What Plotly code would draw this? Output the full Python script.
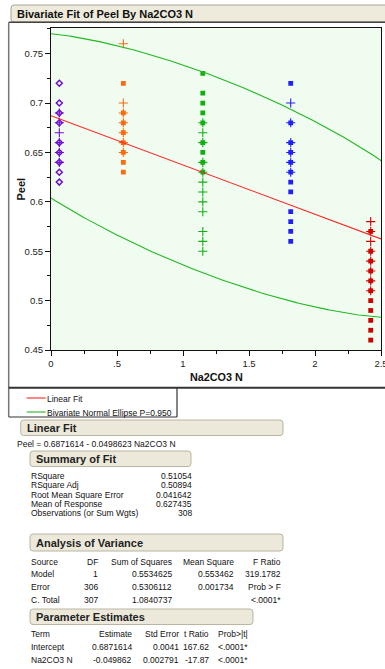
import numpy as np
import plotly.graph_objects as go

W, H = 385, 669

# ---------------- data ----------------
group_x = [0.063, 0.548, 1.15, 1.816, 2.422]
group_colors = ["#7010d0", "#ff6a10", "#10b010", "#2020ff", "#d00000"]

g1_marker_y = [0.72, 0.70, 0.69, 0.68, 0.66, 0.65, 0.64, 0.63, 0.62]
g1_plus_y = [0.69, 0.68, 0.67, 0.66, 0.65, 0.64]
g2_marker_y = [0.72, 0.69, 0.68, 0.67, 0.66, 0.65, 0.64, 0.63]
g2_plus_y = [0.76, 0.70, 0.69, 0.68, 0.67, 0.66, 0.65]
g3_marker_y = [0.73, 0.71, 0.70, 0.69, 0.68, 0.66, 0.65, 0.64, 0.63]
g3_plus_y = [0.68, 0.67, 0.66, 0.64, 0.63, 0.62, 0.61, 0.60, 0.59, 0.57, 0.56, 0.55]
g4_marker_y = [0.72, 0.68, 0.66, 0.65, 0.64, 0.63, 0.62, 0.61, 0.59, 0.58, 0.57, 0.56]
g4_plus_y = [0.70, 0.68, 0.66, 0.65, 0.64, 0.63]
g5_marker_y = [0.57, 0.55, 0.54, 0.53, 0.52, 0.51, 0.50, 0.49, 0.48, 0.47, 0.46]
g5_plus_y = [0.58, 0.57, 0.56, 0.55, 0.54, 0.53, 0.52, 0.51]

marker_sets = [g1_marker_y, g2_marker_y, g3_marker_y, g4_marker_y, g5_marker_y]
plus_sets = [g1_plus_y, g2_plus_y, g3_plus_y, g4_plus_y, g5_plus_y]
marker_symbols = ["diamond-open", "square", "square", "square", "square"]

# fit statistics (from report)
INTERCEPT = 0.6871614
SLOPE = -0.0498623
RSQUARE = 0.51054
MEAN_Y = 0.627435
N_OBS = 308
SS_TOTAL = 1.0840737
ELLIPSE_P = 0.950

x_tickvals = [0, 0.5, 1, 1.5, 2, 2.5]
x_ticktext = ["0", ".5", "1", "1.5", "2", "2.5"]

equation = "Peel = 0.6871614 - 0.0498623 Na2CO3 N"
summary_labels = ["RSquare", "RSquare Adj", "Root Mean Square Error",
                  "Mean of Response", "Observations (or Sum Wgts)"]
summary_values = ["0.51054", "0.50894", "0.041642", "0.627435", "308"]

anova_header = ["Source", "DF", "Sum of Squares", "Mean Square", "F Ratio"]
anova_rows = [
    ["Model", "1", "0.5534625", "0.553462", "319.1782"],
    ["Error", "306", "0.5306112", "0.001734", "Prob > F"],
    ["C. Total", "307", "1.0840737", "", "<.0001*"],
]
pe_header = ["Term", "Estimate", "Std Error", "t Ratio", "Prob>|t|"]
pe_rows = [
    ["Intercept", "0.6871614", "0.0041", "167.62", "<.0001*"],
    ["Na2CO3 N", "-0.049862", "0.002791", "-17.87", "<.0001*"],
]

# ---------------- helpers ----------------
FONT = "Liberation Sans, Arial, sans-serif"
PAD = 2  # plotly annotation inner padding


def PX(x):
    return x / W


def PY(y):
    return 1 - y / H


def rrect(x0, y0, x1, y1, r):
    p = [
        f"M {PX(x0 + r)},{PY(y0)}",
        f"L {PX(x1 - r)},{PY(y0)}",
        f"Q {PX(x1)},{PY(y0)} {PX(x1)},{PY(y0 + r)}",
        f"L {PX(x1)},{PY(y1 - r)}",
        f"Q {PX(x1)},{PY(y1)} {PX(x1 - r)},{PY(y1)}",
        f"L {PX(x0 + r)},{PY(y1)}",
        f"Q {PX(x0)},{PY(y1)} {PX(x0)},{PY(y1 - r)}",
        f"L {PX(x0)},{PY(y0 + r)}",
        f"Q {PX(x0)},{PY(y0)} {PX(x0 + r)},{PY(y0)}",
        "Z",
    ]
    return " ".join(p)


shapes = []
annotations = []


def text(x, y, s, size=8.5, anchor="left", bold=False, color="#111"):
    if anchor == "left":
        x = x - PAD
    elif anchor == "right":
        x = x + PAD
    annotations.append(dict(
        x=PX(x), y=PY(y), xref="paper", yref="paper", text=(f"<b>{s}</b>" if bold else s),
        showarrow=False, xanchor=anchor, yanchor="middle",
        font=dict(family=FONT, size=size, color=color)))


def header(x0, y0, x1, y1, label, size=11):
    shapes.append(dict(type="path", path=rrect(x0, y0, x1, y1, 3), xref="paper", yref="paper",
                       fillcolor="#ece9da", line=dict(color="#b9b5a2", width=1), layer="below"))
    text(x0 + 6, (y0 + y1) / 2 + 0.5, label, size=size, bold=True, color="#222")


def hline(x0, x1, y, color="#333", width=1.5):
    shapes.append(dict(type="line", x0=PX(x0), x1=PX(x1), y0=PY(y), y1=PY(y),
                       xref="paper", yref="paper", line=dict(color=color, width=width)))


def vline(x, y0, y1, color="#333", width=1.5):
    shapes.append(dict(type="line", x0=PX(x), x1=PX(x), y0=PY(y0), y1=PY(y1),
                       xref="paper", yref="paper", line=dict(color=color, width=width)))


# ---------------- figure ----------------
fig = go.Figure()

for gx, col, sym, ys, ps in zip(group_x, group_colors, marker_symbols, marker_sets, plus_sets):
    fig.add_trace(go.Scatter(
        x=[gx] * len(ps), y=ps, mode="markers", showlegend=False, hoverinfo="x+y",
        marker=dict(symbol="cross-thin", size=6.5, color=col, line=dict(color=col, width=1.1))))
    if sym == "diamond-open":
        mk = dict(symbol=sym, size=4.6, color=col, line=dict(color=col, width=1.5))
    else:
        mk = dict(symbol=sym, size=4.8, color=col, line=dict(width=0))
    fig.add_trace(go.Scatter(x=[gx] * len(ys), y=ys, mode="markers", showlegend=False,
                             hoverinfo="x+y", marker=mk))

# bivariate normal ellipse from the report statistics
r = -np.sqrt(RSQUARE)
sy = np.sqrt(SS_TOTAL / (N_OBS - 1))
sx = r * sy / SLOPE
mx = (INTERCEPT - MEAN_Y) / (-SLOPE)
c = np.sqrt(-2 * np.log(1 - ELLIPSE_P))
t = np.linspace(0, 2 * np.pi, 721)
ex = mx + c * sx * np.cos(t)
ey = MEAN_Y + c * sy * (r * np.cos(t) + np.sqrt(1 - r ** 2) * np.sin(t))
fig.add_trace(go.Scatter(x=ex, y=ey, mode="lines", showlegend=False, hoverinfo="skip",
                         line=dict(color="#22b922", width=1.1)))

# linear fit
fx = np.array([0.0, 2.5])
fig.add_trace(go.Scatter(x=fx, y=INTERCEPT + SLOPE * fx, mode="lines", showlegend=False,
                         hoverinfo="skip", line=dict(color="#ff2222", width=1.1)))

# ---------------- decorations ----------------
# title bar
shapes.append(dict(type="path", path=rrect(11, 5, 392, 22, 3), xref="paper", yref="paper",
                   fillcolor="#eeebdd", line=dict(color="#a9a590", width=1), layer="below"))
text(17, 13.8, "Bivariate Fit of Peel By Na2CO3 N", size=11, bold=True, color="#111")

# outer frame
hline(8.7, 392, 22.3, color="#444", width=1.5)
vline(8.7, 22.3, 417, color="#777", width=1.5)
hline(8.7, 392, 387.7, color="#333", width=2)
vline(177, 387.7, 417, color="#333", width=1.2)
hline(8.7, 177, 417, color="#333", width=1.2)

# axis titles
annotations.append(dict(x=PX(20.5), y=PY(189), xref="paper", yref="paper", text="<b>Peel</b>",
                        textangle=-90, showarrow=False, xanchor="center", yanchor="middle",
                        font=dict(family=FONT, size=11, color="#111")))
text(216, 376.5, "Na2CO3 N", size=10.8, bold=True, anchor="center")

# legend
hline(26.7, 45.7, 398, color="#ff2222", width=1.1)
text(47, 398.5, "Linear Fit", size=8.5)
hline(26.7, 45.7, 412, color="#22b922", width=1.1)
text(47, 412.5, "Bivariate Normal Ellipse P=0.950", size=8.5)

# Linear Fit report
header(20.7, 420, 283, 435.5, "Linear Fit")
text(17, 444.5, equation, size=8.5)

header(30, 451, 191, 466.5, "Summary of Fit")
sum_y = [475.7, 484.9, 494.9, 503.8, 512.9]
for lab, val, yy in zip(summary_labels, summary_values, sum_y):
    text(31, yy, lab)
    text(191.7, yy, val, anchor="right")

header(30, 534, 283, 551, "Analysis of Variance")
anova_y = [561.6, 574.1, 586.5, 600]
anova_right = [98.5, 171.8, 234.2, 281]
for row, yy in zip([anova_header] + anova_rows, anova_y):
    text(31, yy, row[0])
    for s, xr in zip(row[1:], anova_right):
        if s:
            text(xr, yy, s, anchor="right")

header(30, 609, 253, 624.5, "Parameter Estimates")
pe_y = [634, 646.8, 660]
pe_right = [132.4, 179.2, 209.2]
for row, yy in zip([pe_header] + pe_rows, pe_y):
    text(31, yy, row[0])
    for s, xr in zip(row[1:4], pe_right):
        text(xr, yy, s, anchor="right")
    text(218, yy, row[4])

axis_common = dict(showline=True, linecolor="#111", linewidth=1, mirror=True,
                   ticks="outside", ticklen=5, tickcolor="#111", showgrid=False, zeroline=False,
                   tickfont=dict(family=FONT, size=9.5, color="#222"))

fig.update_layout(
    width=W, height=H, margin=dict(l=0, r=0, t=0, b=0, pad=0, autoexpand=False),
    paper_bgcolor="white", plot_bgcolor="#effcef",
    showlegend=False,
    shapes=shapes, annotations=annotations,
    xaxis=dict(domain=[PX(51), PX(381)], range=[0, 2.5], tickvals=x_tickvals,
               ticktext=x_ticktext, ticklabeloverflow="allow", automargin=False,
               minor=dict(dtick=0.25, ticks="outside", ticklen=3,
                          tickcolor="#111", showgrid=False),
               **axis_common),
    yaxis=dict(domain=[PY(350), PY(28.3)], range=[0.45, 0.7757], dtick=0.05, tick0=0.45,
               automargin=False,
               minor=dict(dtick=0.025, ticks="outside", ticklen=3, tickcolor="#111",
                          showgrid=False),
               **axis_common),
)

fig.write_html("out.html")
